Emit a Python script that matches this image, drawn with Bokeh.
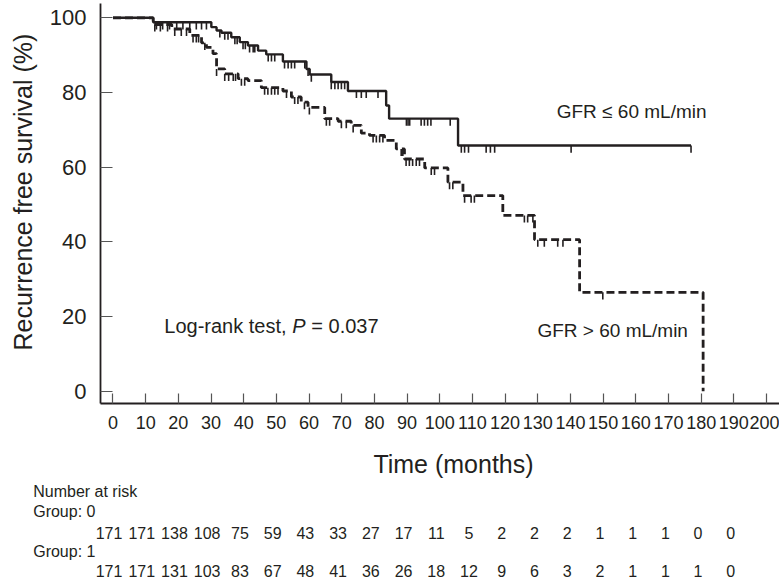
import numpy as np
from bokeh.plotting import figure
from bokeh.models import Range1d, FixedTicker, Title
from bokeh.core.properties import value
from bokeh.embed import file_html
from bokeh.resources import INLINE

FONT = "Liberation Sans"
INK = "#231f20"

# ---------------- data ----------------
# GFR <= 60 mL/min (solid)
le60_time = [0, 12.3, 30.1, 31.7, 33.2, 36.2, 38.8, 41.3, 44.4, 46.9, 52.0, 59.2,
             60.2, 66.8, 71.9, 83.6, 84.5, 105.6, 176.9]
le60_surv = [100, 98.8, 97.5, 96.6, 96.0, 94.8, 93.5, 92.6, 91.2, 90.2, 88.3, 86.3,
             84.8, 82.8, 80.4, 76.5, 73.0, 65.8, 65.8]
le60_censor = [13.3, 15.2, 17.3, 19.5, 21.4, 23.5, 25.5, 27.1, 28.6, 32.7, 34.2, 35.2,
               37.3, 38.0, 39.8, 40.5, 41.8, 42.9, 43.4, 47.5, 48.5, 49.5, 52.5, 53.6,
               54.6, 55.6, 58.7, 59.7, 60.7, 66.8, 67.9, 68.9, 69.9, 70.9, 74.5, 76.0,
               77.5, 81.1, 89.8, 90.3, 90.8, 94.3, 95.3, 96.3, 97.3, 103.2, 106.6,
               107.6, 108.8, 114.2, 115.5, 116.8, 140.2, 176.9]

# GFR > 60 mL/min (dashed)
gt60_time = [0, 12.3, 18.0, 23.5, 27.1, 28.6, 30.6, 31.7, 34.2, 38.3, 41.3, 45.4,
             52.0, 54.6, 57.6, 59.7, 64.8, 68.9, 72.9, 76.0, 78.5, 83.1, 86.7, 89.2,
             95.4, 102.5, 107.1, 119.3, 129.0, 142.8, 180.6]
gt60_surv = [100, 98.2, 97.0, 95.3, 93.3, 92.1, 90.4, 86.3, 85.0, 83.7, 83.2, 81.3,
             80.4, 78.8, 77.4, 76.0, 73.0, 72.3, 71.2, 69.1, 68.5, 67.2, 64.9, 62.2,
             59.8, 56.0, 52.4, 47.1, 40.6, 26.5, 0]
gt60_censor = [12.8, 14.5, 16.7, 18.9, 20.9, 22.5, 24.5, 25.5, 26.2, 28.1, 31.7, 34.2,
               35.4, 36.8, 37.5, 39.3, 40.3, 46.4, 47.4, 48.5, 49.5, 50.5, 53.1, 55.6,
               56.6, 58.6, 60.1, 65.3, 66.3, 69.9, 71.4, 73.5, 79.6, 80.6, 81.6, 82.6,
               88.2, 88.7, 89.7, 90.7, 91.7, 92.8, 93.8, 97.4, 98.4, 103.0, 104.0,
               107.6, 109.6, 110.6, 125.9, 126.9, 128.5, 130.0, 132.0, 136.1, 137.7,
               149.9]

risk_times = [0, 10, 20, 30, 40, 50, 60, 70, 80, 90, 100, 110, 120, 130, 140, 150,
              160, 170, 180, 190]
risk_group0 = [171, 171, 138, 108, 75, 59, 43, 33, 27, 17, 11, 5, 2, 2, 2, 1, 1, 1, 0, 0]
risk_group1 = [171, 171, 131, 103, 83, 67, 48, 41, 36, 26, 18, 12, 9, 6, 3, 2, 1, 1, 1, 0]

x_ticks = list(range(0, 201, 10))
y_ticks = [0, 20, 40, 60, 80, 100]

x_title = "Time (months)"
y_title = "Recurrence free survival (%)"
label_le60 = "GFR \u2264 60 mL/min"
label_gt60 = "GFR > 60 mL/min"
table_titles = ["Number at risk", "Group: 0", "Group: 1"]

# ---------------- layout constants (page has no margin) ----------------
W = 779
PX_PER_MONTH = 3.2725
PX_PER_PCT = 3.735
FRAME_LEFT = 99
FRAME_TOP = 3
FRAME_W = W - FRAME_LEFT
FRAME_H = 400
MAIN_H = 450
TABLE_H = 579 - MAIN_H
X0 = -(111.5 - FRAME_LEFT) / PX_PER_MONTH
X1 = X0 + FRAME_W / PX_PER_MONTH
Y1 = 100 + (17.3 - FRAME_TOP) / PX_PER_PCT
Y0 = Y1 - FRAME_H / PX_PER_PCT


def surv_at(times, surv, t):
    i = np.searchsorted(np.asarray(times), t, side="right") - 1
    return np.asarray(surv)[i]


p = figure(width=W, height=MAIN_H, x_range=Range1d(X0, X1), y_range=Range1d(Y0, Y1),
           toolbar_location=None, output_backend="svg",
           min_border_left=FRAME_LEFT, min_border_right=0, min_border_top=FRAME_TOP,
           min_border_bottom=MAIN_H - FRAME_H - FRAME_TOP)
p.outline_line_color = None
p.xgrid.visible = False
p.ygrid.visible = False

# curves
p.step(le60_time, le60_surv, mode="after", line_color=INK, line_width=2.4)
p.step(gt60_time, gt60_surv, mode="after", line_color=INK, line_width=2.8,
       line_dash="8 4")

TICK = 1.9  # censor tick length in %
for times, surv, cens in ((le60_time, le60_surv, le60_censor),
                          (gt60_time, gt60_surv, gt60_censor)):
    s = surv_at(times, surv, np.asarray(cens))
    p.segment(x0=cens, y0=s, x1=cens, y1=s - TICK, line_color=INK, line_width=1.6)

# axes
for ax in (p.xaxis[0], p.yaxis[0]):
    ax.axis_line_color = INK
    ax.axis_line_width = 1.8
    ax.major_tick_line_color = "#555555"
    ax.major_tick_line_width = 1.2
    ax.major_tick_out = 0
    ax.minor_tick_line_color = None
    ax.major_label_text_font = FONT
    ax.major_label_text_color = INK

p.xaxis.ticker = FixedTicker(ticks=x_ticks)
p.xaxis.major_tick_in = 10
p.xaxis.major_label_text_font_size = "18px"
p.xaxis.major_label_standoff = 12

p.yaxis.ticker = FixedTicker(ticks=y_ticks)
p.yaxis.major_tick_in = 12
p.yaxis.major_label_text_font_size = "22px"
p.yaxis.major_label_standoff = 14

# y-axis title as a side title (start of text 53px above the frame bottom)
p.add_layout(Title(text=y_title, align="left", offset=53, standoff=16,
                   vertical_align="top", text_font=FONT, text_font_size="25px",
                   text_font_style="normal", text_color=INK), "left")

# in-plot annotations
p.text(x=[135.8], y=[74.8], text=[label_le60], text_font=value(FONT),
       text_font_size="19px", text_baseline="middle", text_align="left",
       text_color=INK)
p.text(x=[129.9], y=[16.4], text=[label_gt60], text_font=value(FONT),
       text_font_size="19px", text_baseline="middle", text_align="left",
       text_color=INK)
p.text(x=[15.7], y=[17.4], text=["Log-rank test,"], text_font=value(FONT),
       text_font_size="20px", text_baseline="middle", text_align="left",
       text_color=INK)
p.text(x=[15.7], y=[17.4], text=["P"], text_font=value(FONT),
       text_font_size="20px", text_font_style="italic", text_baseline="middle",
       text_align="left", text_color=INK, x_offset=128)
p.text(x=[15.7], y=[17.4], text=["= 0.037"], text_font=value(FONT),
       text_font_size="20px", text_baseline="middle", text_align="left",
       text_color=INK, x_offset=147)

# ---------------- x title + number-at-risk table (separate root, full-width frame) ----
T0 = X0 - FRAME_LEFT / PX_PER_MONTH
t = figure(width=W, height=TABLE_H, x_range=Range1d(T0, X1),
           y_range=Range1d(TABLE_H, 0), toolbar_location=None, output_backend="svg",
           x_axis_location=None, y_axis_location=None,
           min_border_left=0, min_border_right=0, min_border_top=0,
           min_border_bottom=0)
t.xgrid.visible = False
t.ygrid.visible = False
t.outline_line_color = None

XTITLE_X = (453 - 111.5) / PX_PER_MONTH
t.text(x=[XTITLE_X], y=[13], text=[x_title], text_font=value(FONT),
       text_font_size="25px", text_baseline="middle", text_align="center",
       text_color=INK)

LABEL_X = X0 - (FRAME_LEFT - 32.7) / PX_PER_MONTH
t.text(x=[LABEL_X] * 3, y=[41, 61, 101], text=table_titles, text_font=value(FONT),
       text_font_size="16px", text_baseline="middle", text_align="left",
       text_color=INK)
for vals, yy in ((risk_group0, 82), (risk_group1, 120)):
    t.text(x=risk_times, y=[yy] * len(vals), text=[str(v) for v in vals],
           text_font=value(FONT), text_font_size="16px", text_baseline="middle",
           text_align="center", text_color=INK, x_offset=-3)

open("out.html", "w").write(file_html([p, t], INLINE))
